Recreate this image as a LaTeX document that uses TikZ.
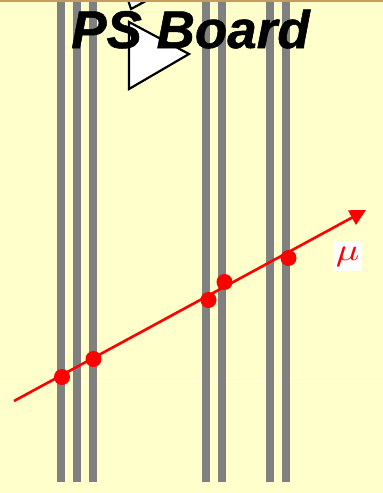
\documentclass[tikz,border=0pt]{standalone}
\usepackage{fontspec}
\setmainfont{Liberation Sans}
\usetikzlibrary{arrows.meta}
\definecolor{bgc}{HTML}{FFFFCC}
\definecolor{bandc}{HTML}{C99A5B}
\definecolor{barc}{HTML}{808080}
\tikzset{
  bar/.style={draw=none,fill=barc},
  hit/.style={circle,fill=red,inner sep=0pt,minimum size=16pt},
  tri/.style={draw=black,fill=white,line width=2.2pt,miter limit=10},
  track/.style={draw=red,line width=2.6pt,-{Triangle[length=16pt,width=16pt]}}
}
\begin{document}
\begin{tikzpicture}[x=1pt,y=-1pt]
\path[use as bounding box] (0,0) rectangle (383,493);
\fill[bgc] (0,0) rectangle (383,493);
\draw[white!60!bgc,line width=0.6pt] (0,381) -- (383,381);
\foreach \x in {57,73,89,202,218,266,282}
  \fill[bar] (\x,2) rectangle (\x+8,482);
\fill[bandc] (0,0) rectangle (383,2);
\begin{scope}
\clip (0,2) rectangle (383,493);
\draw[tri] (127,-3) -- (144,2) -- (131,9) -- cycle;
\end{scope}
\draw[tri] (129,22) -- (189,54) -- (129,89) -- cycle;
\node[anchor=base,inner sep=0pt,font=\fontsize{53}{53}\selectfont\bfseries\itshape] (title) at (190.5,48) {\special{pdf:literal direct 2 Tr 0.5 w}PS Board\special{pdf:literal direct 0 Tr 0.4 w}};
\coordinate (start) at (14,401);
\coordinate (tip) at (366,210);
\draw[track] (start) -- (tip);
\node[hit] (h1) at (62,377) {};
\node[hit] (h2) at (93.5,359) {};
\node[hit] (h3) at (208.5,300) {};
\node[hit] (h4) at (224.5,282) {};
\node[hit] (h5) at (288.5,258) {};
\node[fill=white,inner sep=0pt,minimum width=29pt,minimum height=30pt] (mu) at (347.5,256) {};
\node[inner sep=0pt,xscale=3.9,yscale=3.1] (mulabel) at (347.5,256.5) {\color{red}$\mu$};
\end{tikzpicture}
\end{document}
